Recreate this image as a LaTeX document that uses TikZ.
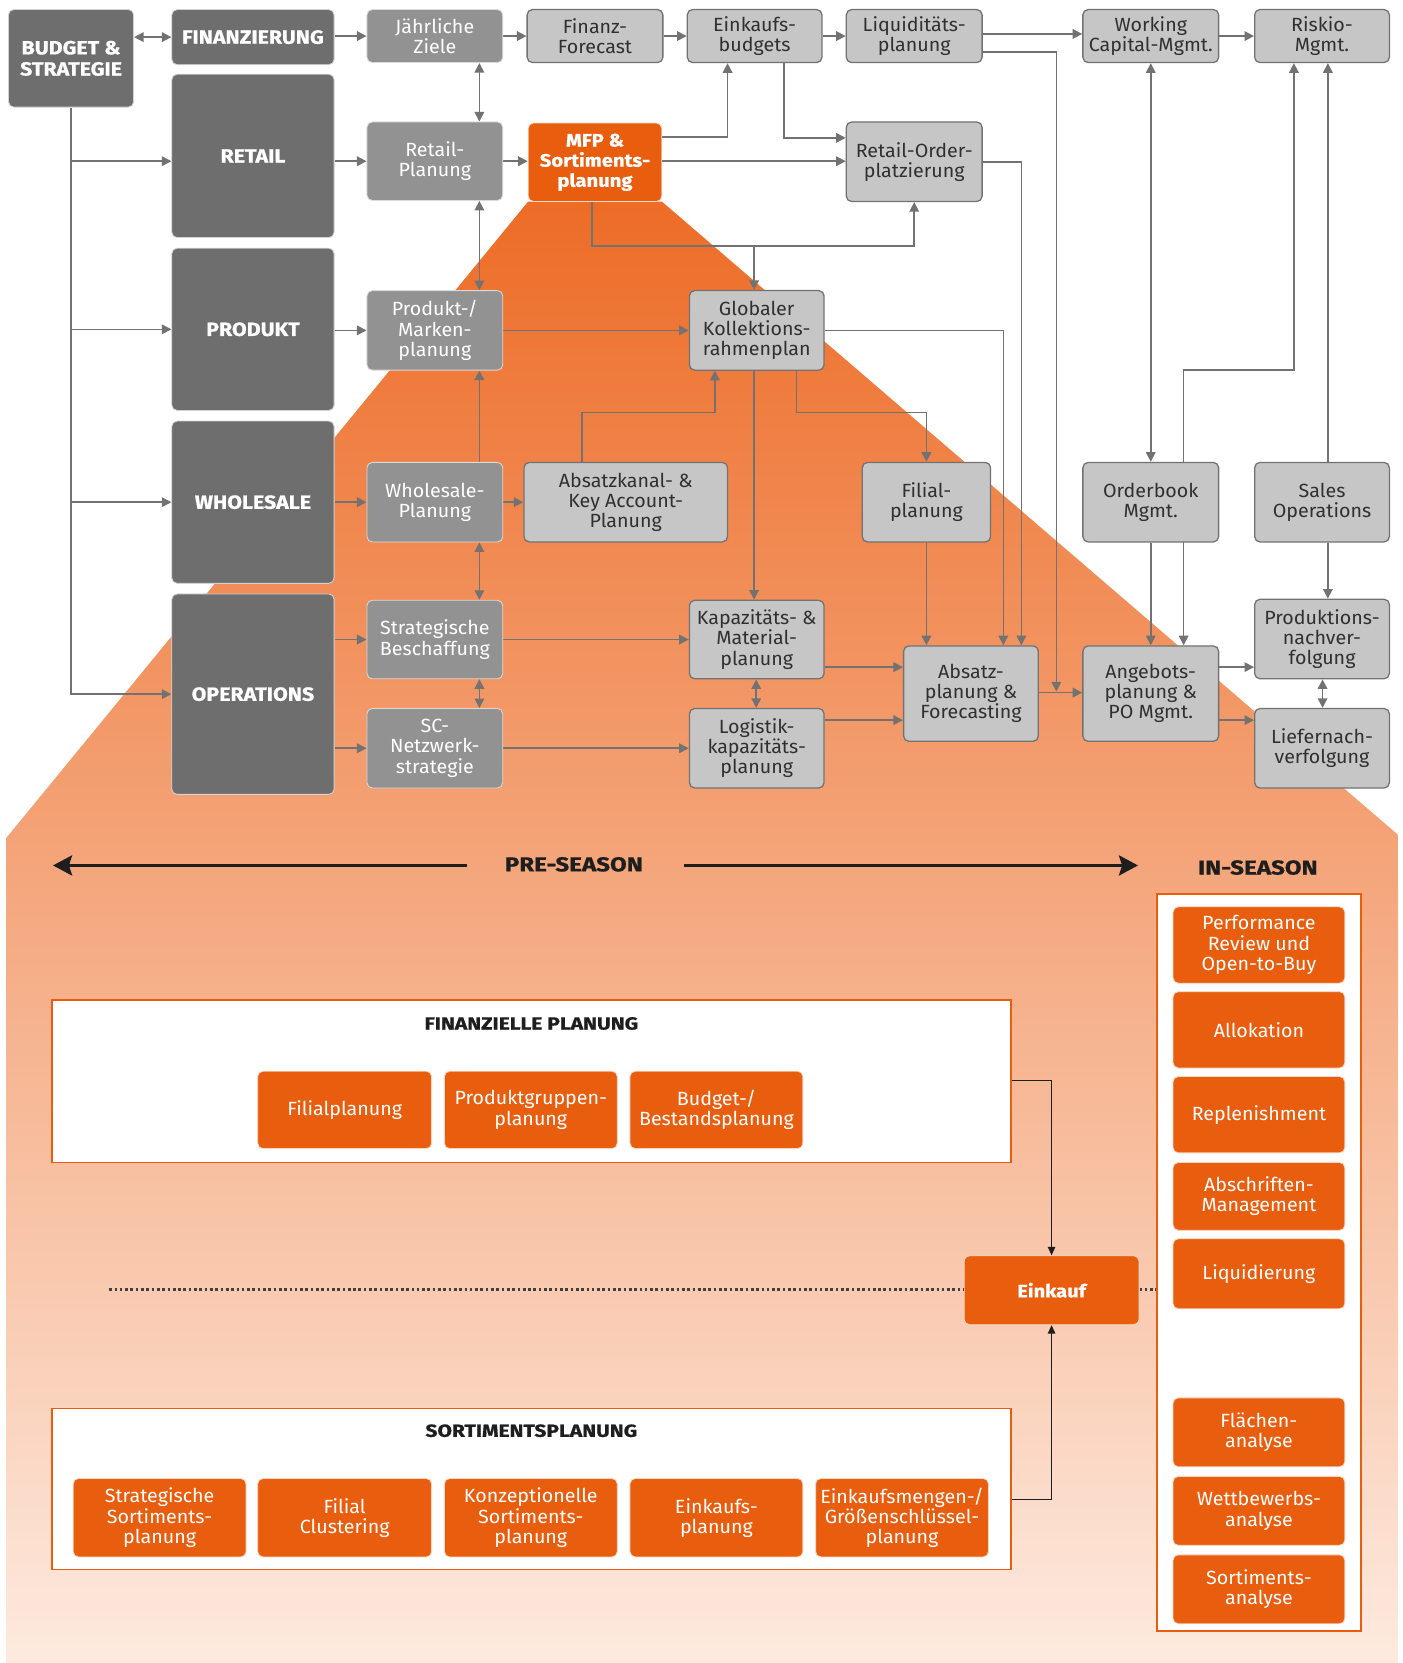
\documentclass[tikz,border=0pt]{standalone}
\usepackage{fontspec}
\setmainfont{Fira Sans}[FakeStretch=1.03]
\newfontfamily\hfont{Fira Sans}[FakeStretch=1.12, BoldFeatures={FakeBold=0.8}]
\newfontfamily\tfont{Fira Sans}[FakeStretch=1.2, BoldFeatures={FakeBold=0.8}]
\usetikzlibrary{arrows.meta,calc}
\definecolor{dkg}{HTML}{6E6E6E}
\definecolor{mdg}{HTML}{929292}
\definecolor{ltg}{HTML}{C6C6C6}
\definecolor{lng}{HTML}{727272}
\definecolor{org}{HTML}{E95D0F}
\definecolor{txt}{HTML}{303030}
\definecolor{ink}{HTML}{1E1E1E}
\definecolor{bgtop}{HTML}{ED6C27}
\definecolor{bgbot}{HTML}{FDEADF}
\pgfdeclarelayer{bg}\pgfdeclarelayer{edges}\pgfsetlayers{bg,edges,main}
\newcommand\mkbox[7]{\node[#1, minimum width={(#5)-(#3)}, minimum height={(#6)-(#4)}] (#2) at ({((#3)+(#5))/2},{((#4)+(#6))/2}) {#7};}
\tikzset{
  base/.style={rounded corners=5pt, inner sep=0pt, align=center, font=\fontsize{18}{19}\selectfont},
  dark/.style={base, fill=dkg, draw=white!70!dkg, line width=0.8pt, text=white, font=\hfont\bfseries\fontsize{18}{20}\selectfont},
  mid/.style={base, fill=mdg, draw=white!65!mdg, line width=0.8pt, text=white},
  lt/.style={base, fill=ltg, draw=lng, line width=1.2pt, text=txt},
  obox/.style={base, fill=org, draw=white!75!org, line width=0.8pt, text=white},
  obold/.style={obox, font=\hfont\bfseries\fontsize{17}{19}\selectfont},
  wbox/.style={fill=white, draw=org, line width=1.5pt, inner sep=0pt},
  title/.style={text=ink, font=\tfont\bfseries\fontsize{16.5}{18}\selectfont},
  head/.style={text=ink, font=\tfont\bfseries\fontsize{19}{22}\selectfont},
  con/.style={draw=lng, line width=1.5pt, -{Triangle[length=9pt,width=9pt]}},
  con2/.style={draw=lng, line width=1.5pt, {Triangle[length=9pt,width=9pt]}-{Triangle[length=9pt,width=9pt]}},
  season/.style={draw=ink, line width=2.5pt},
  blk/.style={draw=ink, line width=1.3pt, -{Triangle[length=8pt,width=7pt]}},
  dotline/.style={draw=ink!85, line width=2.5pt, dash pattern=on 2.5pt off 2.5pt},
}
\begin{document}
\begin{tikzpicture}[x=1pt,y=-1pt]
\useasboundingbox (0,0) rectangle (1322,1568);
\begin{pgfonlayer}{bg}
\fill[white] (0,0) rectangle (1322,1568);
\shade[top color=bgtop, bottom color=bgbot] (498,190) -- (624,190) -- (1318,787) -- (1318,1568) -- (6,1568) -- (6,790) -- cycle;
\end{pgfonlayer}
% left column
\mkbox{dark}{bud}{8}{9}{126}{101}{BUDGET \&\\STRATEGIE}
\mkbox{dark}{fin}{162}{9}{315}{61}{FINANZIERUNG}
\mkbox{dark}{ret}{162}{70}{315}{224}{RETAIL}
\mkbox{dark}{pro}{162}{234}{315}{387}{PRODUKT}
\mkbox{dark}{who}{162}{397}{315}{550}{WHOLESALE}
\mkbox{dark}{ops}{162}{560}{315}{749}{OPERATIONS}
% medium grey
\mkbox{mid}{jz}{346}{9}{474}{59}{Jährliche\\Ziele}
\mkbox{mid}{rp}{346}{115}{474}{189}{Retail-\\Planung}
\mkbox{mid}{pm}{346}{274}{474}{349}{Produkt-/\\Marken-\\planung}
\mkbox{mid}{wp}{346}{436}{474}{511}{Wholesale-\\Planung}
\mkbox{mid}{sb}{346}{566}{474}{640}{Strategische\\Beschaffung}
\mkbox{mid}{sc}{346}{668}{474}{743}{SC-\\Netzwerk-\\strategie}
% light grey
\mkbox{lt}{ff}{497}{9}{625}{59}{Finanz-\\Forecast}
\mkbox{lt}{eb}{648}{9}{775}{59}{Einkaufs-\\budgets}
\mkbox{lt}{lq}{798}{9}{926}{59}{Liquiditäts-\\planung}
\mkbox{lt}{wc}{1021}{9}{1149}{59}{Working\\Capital-Mgmt.}
\mkbox{lt}{rm}{1183}{9}{1310}{59}{Riskio-\\Mgmt.}
\mkbox{obold}{mfp}{498}{116}{624}{190}{MFP \&\\Sortiments-\\planung}
\mkbox{lt}{ro}{798}{115}{926}{190}{Retail-Order-\\platzierung}
\mkbox{lt}{gk}{650}{274}{777}{349}{Globaler\\Kollektions-\\rahmenplan}
\mkbox{lt}{ak}{494}{436}{686}{511}{Absatzkanal- \&\\Key Account-\\Planung}
\mkbox{lt}{fp}{813}{436}{934}{511}{Filial-\\planung}
\mkbox{lt}{ob}{1021}{436}{1149}{511}{Orderbook\\Mgmt.}
\mkbox{lt}{so}{1183}{436}{1310}{511}{Sales\\Operations}
\mkbox{lt}{km}{650}{566}{777}{640}{Kapazitäts- \&\\Material-\\planung}
\mkbox{lt}{lk}{650}{668}{777}{743}{Logistik-\\kapazitäts-\\planung}
\mkbox{lt}{af}{852}{609}{979}{699}{Absatz-\\planung \&\\Forecasting}
\mkbox{lt}{ap}{1021}{609}{1149}{699}{Angebots-\\planung \&\\PO Mgmt.}
\mkbox{lt}{pn}{1183}{565}{1310}{640}{Produktions-\\nachver-\\folgung}
\mkbox{lt}{ln}{1183}{668}{1310}{743}{Liefernach-\\verfolgung}
% connectors (upper part)
\begin{pgfonlayer}{edges}
\draw[con2] (bud.east |- fin.west) -- (fin.west);
\draw[con] (bud.south) |- (ops.west);
\coordinate (t1) at (67,152);
\draw[con] (t1) -- (ret.west |- t1);
\draw[con] (bud.south |- pro.west) -- (pro.west);
\draw[con] (bud.south |- who.west) -- (who.west);
\draw[con] (fin.east |- jz.west) -- (jz.west);
\draw[con] (jz.east) -- (ff.west);
\draw[con] (ff.east) -- (eb.west);
\draw[con] (eb.east) -- (lq.west);
\draw[con] (lq.east |- 0,32) -- (wc.west |- 0,32);
\draw[con] (wc.east) -- (rm.west);
\coordinate (j1) at (996,652);
\draw[con] (lq.east |- 0,49) -| (j1);
\draw[con2] (jz.south -| 452,0) -- (rp.north -| 452,0);
\draw[con2] (rp.south -| 452,0) -- (pm.north -| 452,0);
\draw[con] (wp.north -| 452,0) -- (pm.south -| 452,0);
\draw[con2] (wp.south -| 452,0) -- (sb.north -| 452,0);
\draw[con2] (sb.south -| 452,0) -- (sc.north -| 452,0);
\draw[con] (ret.east |- 0,152) -- (rp.west |- 0,152);
\draw[con] (pro.east |- pm.west) -- (pm.west);
\draw[con] (who.east |- wp.west) -- (wp.west);
\draw[con] (ops.east |- sb.west) -- (sb.west);
\draw[con] (ops.east |- sc.west) -- (sc.west);
\draw[con] (rp.east |- 0,152) -- (mfp.west |- 0,152);
\draw[con] (mfp.east |- 0,129) -| (eb.south -| 686,0);
\draw[con] (mfp.east |- 0,152) -- (ro.west |- 0,152);
\draw[con] (eb.south -| 739,0) |- (ro.west |- 0,130);
\draw[con] (mfp.south -| 558,0) |- (ro.south |- 0,232) -- (ro.south);
\coordinate (j2) at (711,232);
\draw[con] (j2) -- (gk.north -| j2);
\draw[con] (pm.east) -- (gk.west |- pm.east);
\draw[con] (gk.east) -| (af.north -| 946,0);
\draw[con] (ro.east) -| (af.north -| 963,0);
\draw[con] (gk.south -| 751,0) |- (fp.north |- 0,389) -- (fp.north);
\draw[con] (gk.south -| 711,0) -- (km.north -| 711,0);
\draw[con] (ak.north -| 549,0) |- (674,389) -- (gk.south -| 674,0);
\draw[con] (wp.east) -- (ak.west |- wp.east);
\draw[con] (sb.east) -- (km.west |- sb.east);
\draw[con] (sc.east) -- (lk.west |- sc.east);
\draw[con2] (km.south -| 713,0) -- (lk.north -| 713,0);
\draw[con] (km.east |- 0,629) -- (af.west |- 0,629);
\draw[con] (lk.east |- 0,679) -- (af.west |- 0,679);
\draw[con] (fp.south) -- (af.north -| fp.south);
\draw[con] (af.east |- 0,653) -- (ap.west |- 0,653);
\draw[con2] (wc.south) -- (ob.north);
\draw[con] (ob.south) -- (ap.north -| ob.south);
\draw[con2] (rm.south -| 1220,0) |- (1116,349) -- (ap.north -| 1116,0);
\draw[con] (so.north -| 1252,0) -- (rm.south -| 1252,0);
\draw[con] (so.south -| 1252,0) -- (pn.north -| 1252,0);
\draw[con] (ap.east |- 0,629) -- (pn.west |- 0,629);
\draw[con] (ap.east |- 0,679) -- (ln.west |- 0,679);
\draw[con2] (pn.south -| 1247,0) -- (ln.north -| 1247,0);
\end{pgfonlayer}
% lower part
\node[head] (pre) at (541,815) {PRE-SEASON};
\node[head] (ins) at (1186,818) {IN-SEASON};
\coordinate (preL) at (50,816);
\coordinate (preR) at (1073,816);
\draw[season, {Stealth[length=18pt,width=19pt,inset=3pt]}-] (preL) -- (440,816);
\draw[season, -{Stealth[length=18pt,width=19pt,inset=3pt]}] (645,816) -- (preR);
\mkbox{wbox}{inbox}{1091}{843}{1283}{1538}{}
\mkbox{wbox}{finbox}{49}{943}{953}{1096}{}
\node[title] at (501,965) {FINANZIELLE PLANUNG};
\mkbox{wbox}{sortbox}{49}{1328}{953}{1480}{}
\node[title] at (501,1349) {SORTIMENTSPLANUNG};
\mkbox{obox}{f1}{243}{1010}{407}{1083}{Filialplanung}
\mkbox{obox}{f2}{419}{1010}{582}{1083}{Produktgruppen-\\planung}
\mkbox{obox}{f3}{594}{1010}{757}{1083}{Budget-/\\Bestandsplanung}
\mkbox{obox}{s1}{69}{1394}{232}{1468}{Strategische\\Sortiments-\\planung}
\mkbox{obox}{s2}{243}{1394}{407}{1468}{Filial\\Clustering}
\mkbox{obox}{s3}{419}{1394}{582}{1468}{Konzeptionelle\\Sortiments-\\planung}
\mkbox{obox}{s4}{594}{1394}{757}{1468}{Einkaufs-\\planung}
\mkbox{obox}{s5}{769}{1394}{932}{1468}{Einkaufsmengen-/\\Größenschlüssel-\\planung}
\mkbox{obox}{i1}{1106}{855}{1268}{927}{Performance\\Review und\\Open-to-Buy}
\mkbox{obox}{i2}{1106}{935}{1268}{1007}{Allokation}
\mkbox{obox}{i3}{1106}{1015}{1268}{1087}{Replenishment}
\mkbox{obox}{i4}{1106}{1096}{1268}{1160}{Abschriften-\\Management}
\mkbox{obox}{i5}{1106}{1168}{1268}{1234}{Liquidierung}
\mkbox{obox}{i6}{1106}{1318}{1268}{1383}{Flächen-\\analyse}
\mkbox{obox}{i7}{1106}{1392}{1268}{1457}{Wettbewerbs-\\analyse}
\mkbox{obox}{i8}{1106}{1466}{1268}{1531}{Sortiments-\\analyse}
\mkbox{obold}{ek}{909}{1184}{1074}{1249}{Einkauf}
\coordinate (dl) at (103,1216);
\draw[dotline] (dl) -- (ek.west |- dl);
\draw[dotline] (ek.east |- dl) -- (inbox.west |- dl);
\draw[blk] (finbox.east |- 0,1019) -| (ek.north);
\draw[blk] (sortbox.east |- 0,1414) -| (ek.south);
\end{tikzpicture}
\end{document}
